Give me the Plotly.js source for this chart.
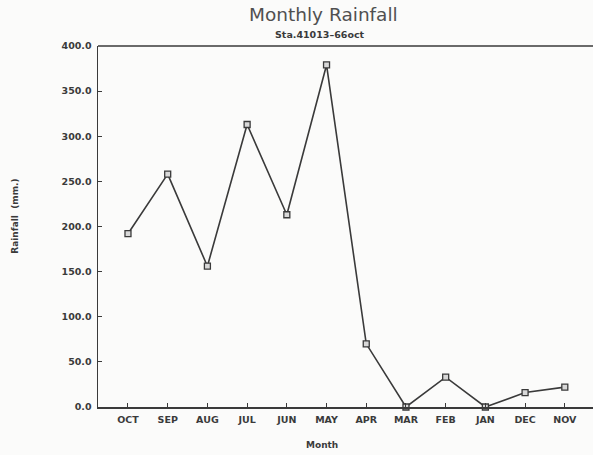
<!DOCTYPE html>
<html>
<head>
<meta charset="utf-8">
<script src="https://cdn.plot.ly/plotly-3.0.1.min.js"></script>
<style>html,body{margin:0;padding:0;background:#fbfbfa;}#chart{width:593px;height:455px;}</style>
</head>
<body>
<div id="chart"></div>
<script>
const months = ["OCT","SEP","AUG","JUL","JUN","MAY","APR","MAR","FEB","JAN","DEC","NOV"];
const rainfall = [192, 258, 156, 313, 213, 379, 70, 0, 33, 0, 16, 22];
const yTicks = [0, 50, 100, 150, 200, 250, 300, 350, 400];

const ink = "#3a3a3a";
const fontFam = "DejaVu Sans, Liberation Sans, sans-serif";

const trace = {
  x: months,
  y: rainfall,
  type: "scatter",
  mode: "lines+markers",
  line: {color: ink, width: 1.6},
  marker: {symbol: "square", size: 6, color: "#d8d8d8", line: {color: ink, width: 1.3}},
  cliponaxis: false,
  hoverinfo: "skip"
};

const layout = {
  width: 593, height: 455,
  margin: {l: 98, r: 0, t: 46, b: 48},
  paper_bgcolor: "#fbfbfa",
  plot_bgcolor: "#fbfbfa",
  showlegend: false,
  font: {family: fontFam, color: ink},
  xaxis: {
    type: "category",
    range: [-0.755, 11.71],
    showline: true, linecolor: ink, linewidth: 1.5,
    ticks: "inside", ticklen: 4, tickcolor: ink, tickwidth: 1,
    showgrid: false, zeroline: false,
    tickfont: {size: 9.5, family: fontFam, color: ink, weight: "bold"},
    ticklabelstandoff: 3
  },
  yaxis: {
    range: [0, 400],
    tickvals: yTicks,
    tickformat: ".1f",
    showline: true, linecolor: ink, linewidth: 1.5,
    ticks: "inside", ticklen: 4, tickcolor: ink, tickwidth: 1,
    showgrid: false, zeroline: false,
    tickfont: {size: 9.5, family: fontFam, color: ink, weight: "bold"},
    ticklabelstandoff: 3
  },
  shapes: [
    {type: "line", xref: "paper", yref: "paper", x0: 0, x1: 1, y0: 1, y1: 1, line: {color: ink, width: 1.5}}
  ],
  annotations: [
    {text: "Monthly Rainfall", xref: "paper", yref: "paper", x: 0.455, y: 1, yshift: 32, xanchor: "center", yanchor: "middle", showarrow: false, font: {size: 18.5, family: fontFam, color: "#505050"}},
    {text: "Sta.41013\u201366oct", xref: "paper", yref: "paper", x: 0.449, y: 1, yshift: 12, xanchor: "center", yanchor: "middle", showarrow: false, font: {size: 9.5, family: fontFam, color: ink, weight: "bold"}},
    {text: "Month", xref: "paper", yref: "paper", x: 0.4525, y: 0, yshift: -38, xanchor: "center", yanchor: "middle", showarrow: false, font: {size: 9, family: fontFam, color: ink, weight: "bold"}},
    {text: "Rainfall  (mm.)", xref: "paper", yref: "paper", x: 0, xshift: -83, y: 0.527, textangle: -90, xanchor: "center", yanchor: "middle", showarrow: false, font: {size: 9, family: fontFam, color: ink, weight: "bold"}}
  ]
};

Plotly.newPlot("chart", [trace], layout, {displayModeBar: false, staticPlot: true});
</script>
</body>
</html>
